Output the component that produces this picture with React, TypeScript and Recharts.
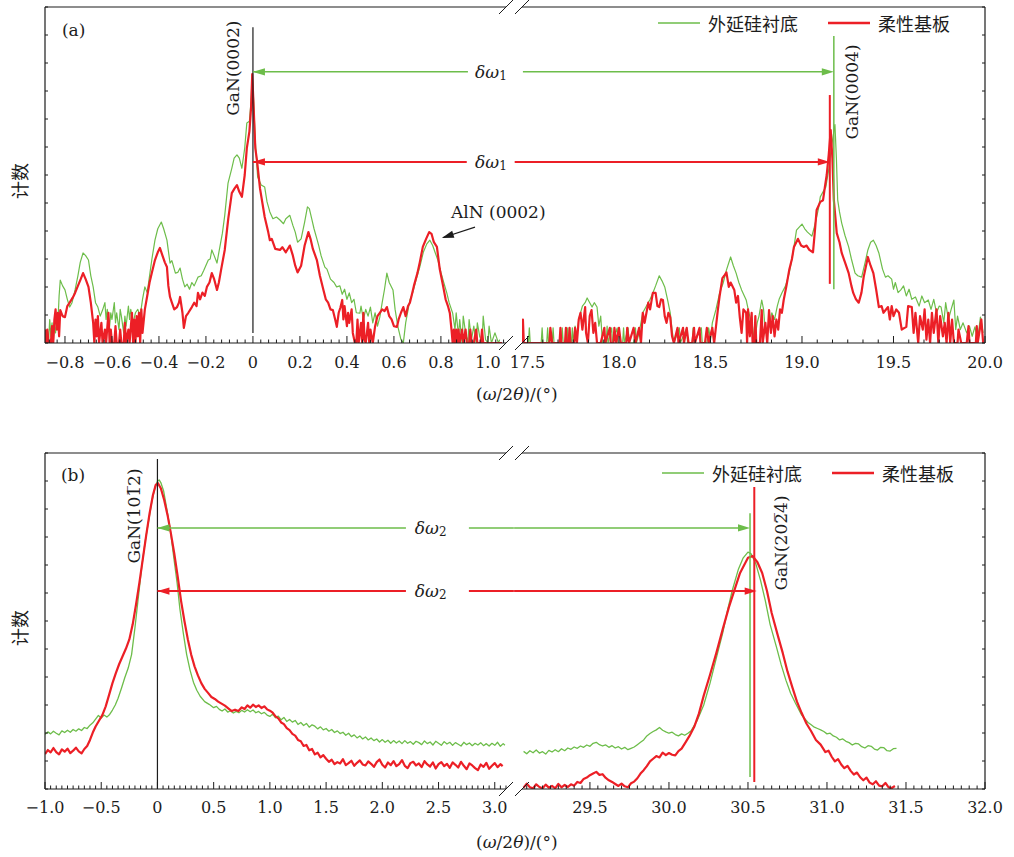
import React from 'react';
import { LineChart, Line, XAxis, YAxis, ReferenceLine, ReferenceDot, Legend } from 'recharts';

type Pt = [number, number];

// ---------------- series names ----------------
const SERIES_GREEN = '外延硅衬底';
const SERIES_RED = '柔性基板';

// ---------------- panel (a), left section: ω/2θ from -0.885 to 1.08 ----------------
const aLeftGreen: Pt[] = [
  [-0.88, 0], [-0.875, 4], [-0.87, 0], [-0.865, 7], [-0.86, 2], [-0.855, 6], [-0.85, 0], [-0.845, 5], [-0.84, 3],
  [-0.835, 8], [-0.83, 6], [-0.825, 14], [-0.82, 18.7], [-0.81, 17], [-0.8, 15.8], [-0.79, 13], [-0.78, 10.7],
  [-0.77, 12], [-0.757, 15.8], [-0.745, 20], [-0.735, 24], [-0.723, 26.8], [-0.712, 26], [-0.7, 24.7], [-0.69, 20],
  [-0.68, 16.7], [-0.67, 12], [-0.66, 10.7], [-0.65, 8], [-0.64, 9.8], [-0.63, 12], [-0.625, 7], [-0.62, 10],
  [-0.61, 5], [-0.605, 9], [-0.6, 7], [-0.59, 12], [-0.585, 6], [-0.58, 9], [-0.57, 4], [-0.565, 10], [-0.56, 8],
  [-0.55, 3], [-0.545, 8], [-0.54, 5], [-0.53, 11], [-0.525, 7], [-0.52, 10], [-0.51, 6], [-0.5, 9], [-0.49, 10],
  [-0.48, 8], [-0.47, 13], [-0.46, 16.7], [-0.45, 15], [-0.44, 20], [-0.43, 25], [-0.417, 30.6], [-0.405, 34],
  [-0.39, 36], [-0.38, 34], [-0.366, 30.6], [-0.353, 23.8], [-0.345, 24.5], [-0.33, 20.8], [-0.32, 21], [-0.31, 22.3],
  [-0.3, 19], [-0.29, 16.7], [-0.28, 17.5], [-0.27, 16], [-0.26, 18], [-0.25, 17], [-0.234, 19.6], [-0.22, 20],
  [-0.21, 21.5], [-0.19, 24.7], [-0.182, 25], [-0.175, 27.7], [-0.165, 26], [-0.153, 23.8], [-0.145, 27], [-0.13, 32.7],
  [-0.12, 38], [-0.106, 47.6], [-0.09, 52], [-0.08, 55], [-0.068, 56], [-0.058, 55], [-0.047, 52], [-0.035, 58],
  [-0.026, 65.5], [-0.015, 66], [-0.008, 72], [-0.003, 80], [0.003, 72], [0.01, 60], [0.02, 49.4], [0.035, 47],
  [0.05, 46.4], [0.06, 42], [0.072, 39], [0.085, 37], [0.1, 37.5], [0.115, 36.6], [0.13, 35.5], [0.14, 37],
  [0.157, 38], [0.17, 35], [0.18, 33], [0.19, 30], [0.205, 31], [0.22, 36], [0.232, 40.5], [0.24, 40], [0.25, 37],
  [0.26, 34], [0.27, 31.5], [0.28, 29], [0.29, 26], [0.306, 22.6], [0.315, 22], [0.33, 19], [0.345, 18], [0.356, 16.7],
  [0.37, 17], [0.38, 14.5], [0.39, 16], [0.4, 13], [0.41, 14.9], [0.42, 12], [0.43, 13], [0.44, 9], [0.455, 8.9],
  [0.46, 11], [0.47, 7], [0.48, 10], [0.49, 8], [0.5, 10.7], [0.51, 6], [0.52, 9], [0.53, 5], [0.54, 7.7], [0.55, 12],
  [0.56, 16], [0.57, 20.8], [0.58, 18], [0.596, 15.8], [0.605, 10], [0.617, 4.8], [0.63, 1], [0.64, 0], [0.65, 6],
  [0.668, 12.8], [0.68, 15], [0.695, 19], [0.71, 22.6], [0.725, 27], [0.74, 29.5], [0.753, 30.6], [0.765, 29],
  [0.775, 27], [0.787, 24.7], [0.8, 21], [0.812, 18], [0.825, 14.9], [0.835, 12], [0.85, 8.9], [0.86, 4], [0.865, 9],
  [0.875, 2], [0.88, 7], [0.89, 0], [0.895, 8], [0.905, 3], [0.915, 0], [0.92, 7], [0.93, 1], [0.94, 5], [0.95, 0],
  [0.955, 6], [0.965, 2], [0.975, 0], [0.98, 8], [0.99, 1], [1.0, 0], [1.005, 5], [1.015, 0], [1.03, 3], [1.045, 0], [1.05, 1],
];

const aLeftRed: Pt[] = [
  [-0.884, 4], [-0.88, 0], [-0.875, 4], [-0.87, 0], [-0.86, 0], [-0.855, 5], [-0.85, 0], [-0.845, 7], [-0.84, 10],
  [-0.835, 4], [-0.83, 9], [-0.825, 2], [-0.82, 9.8], [-0.81, 8], [-0.8, 7.7], [-0.79, 11], [-0.78, 12], [-0.767, 13.5],
  [-0.757, 14.9], [-0.745, 17], [-0.733, 19], [-0.723, 20.8], [-0.712, 19], [-0.7, 16.7], [-0.69, 12], [-0.68, 6],
  [-0.675, 0], [-0.67, 7], [-0.665, 2], [-0.66, 8], [-0.655, 0], [-0.645, 6], [-0.64, 0], [-0.63, 4], [-0.625, 0],
  [-0.615, 9], [-0.61, 0], [-0.605, 4], [-0.6, 0], [-0.59, 0], [-0.585, 5], [-0.58, 0], [-0.57, 0], [-0.565, 4],
  [-0.56, 0], [-0.55, 0], [-0.545, 6], [-0.54, 0], [-0.53, 4], [-0.525, 0], [-0.515, 9], [-0.51, 0], [-0.505, 7],
  [-0.5, 0], [-0.495, 8], [-0.49, 2], [-0.485, 9], [-0.48, 0], [-0.475, 10], [-0.47, 3], [-0.46, 10], [-0.45, 14],
  [-0.44, 18], [-0.43, 21], [-0.417, 24.7], [-0.405, 27], [-0.396, 28.3], [-0.385, 26], [-0.375, 24], [-0.366, 22.6],
  [-0.36, 17], [-0.353, 13.7], [-0.345, 12], [-0.335, 10], [-0.323, 10.7], [-0.315, 12], [-0.31, 13.7], [-0.3, 9],
  [-0.294, 4.5], [-0.285, 8], [-0.275, 9], [-0.26, 10.7], [-0.25, 12], [-0.24, 11], [-0.234, 14.9], [-0.225, 13],
  [-0.215, 15], [-0.205, 14], [-0.196, 16.7], [-0.185, 18], [-0.175, 20.8], [-0.165, 19], [-0.153, 15.8], [-0.145, 18],
  [-0.135, 22], [-0.12, 27.7], [-0.105, 37], [-0.09, 44.6], [-0.078, 46], [-0.068, 47], [-0.058, 45], [-0.047, 43.5],
  [-0.035, 50], [-0.026, 58], [-0.015, 63], [-0.008, 70], [-0.003, 80], [0.003, 70], [0.01, 58], [0.017, 54.5],
  [0.03, 46], [0.05, 37.5], [0.065, 33], [0.072, 30.6], [0.08, 31], [0.095, 28], [0.115, 27.7], [0.125, 28.5],
  [0.14, 27], [0.157, 29], [0.17, 26], [0.18, 23], [0.19, 21], [0.205, 23], [0.22, 29], [0.236, 33], [0.245, 31],
  [0.255, 28], [0.272, 24.7], [0.285, 20], [0.3, 15.8], [0.31, 13], [0.32, 12], [0.33, 10], [0.34, 9.8], [0.35, 7],
  [0.357, 4.8], [0.365, 9], [0.372, 10.5], [0.38, 12.8], [0.385, 7], [0.39, 11], [0.4, 5], [0.405, 9], [0.41, 6],
  [0.42, 10], [0.425, 3], [0.434, 0], [0.44, 0], [0.445, 7], [0.45, 0], [0.46, 6], [0.465, 0], [0.47, 9], [0.475, 1],
  [0.48, 0], [0.49, 6], [0.495, 0], [0.5, 4], [0.51, 0], [0.52, 5], [0.53, 8], [0.54, 9], [0.55, 10], [0.56, 9.5],
  [0.57, 10.7], [0.58, 8], [0.59, 7], [0.6, 5], [0.613, 4.8], [0.62, 7], [0.63, 9], [0.64, 10.7], [0.65, 8], [0.66, 11],
  [0.668, 12], [0.675, 14], [0.685, 17], [0.7, 20.8], [0.71, 24], [0.723, 28.6], [0.737, 31], [0.75, 33], [0.76, 32.5],
  [0.77, 30], [0.783, 28.6], [0.795, 22], [0.81, 16.7], [0.82, 13], [0.83, 11], [0.838, 8.9], [0.845, 4], [0.85, 0],
  [0.855, 4], [0.86, 0], [0.865, 4], [0.87, 0], [0.875, 4], [0.88, 0], [0.89, 4], [0.895, 0], [0.905, 4], [0.91, 0],
  [0.92, 0], [0.925, 4], [0.93, 0], [0.94, 0], [0.95, 4], [0.955, 0], [0.97, 0], [0.975, 4], [0.98, 0], [1.0, 0], [1.06, 0],
];

// ---------------- panel (a), right section: 17.47 to 20.0 ----------------
const aRightGreen: Pt[] = [
  [17.47, 0], [17.505, 0], [17.51, 4.5], [17.515, 0], [17.575, 0], [17.58, 4.5], [17.585, 0], [17.605, 0], [17.61, 4.5],
  [17.615, 0], [17.635, 0], [17.64, 4.5], [17.645, 0], [17.685, 0], [17.69, 4.5], [17.695, 0], [17.715, 0], [17.72, 4.5],
  [17.725, 0], [17.74, 0], [17.745, 4.5], [17.75, 0], [17.76, 5], [17.77, 2], [17.78, 7], [17.79, 9], [17.8, 11],
  [17.815, 12], [17.826, 13.4], [17.84, 12], [17.853, 10.7], [17.865, 12], [17.88, 10.7], [17.89, 5], [17.9, 8], [17.91, 0],
  [17.93, 0], [17.935, 5], [17.94, 0], [17.96, 4.5], [17.965, 0], [17.99, 4.5], [17.995, 0], [18.02, 0], [18.025, 4.5],
  [18.03, 0], [18.05, 4.5], [18.055, 0], [18.08, 0], [18.09, 4.5], [18.095, 0], [18.11, 3], [18.12, 6], [18.13, 9],
  [18.15, 11], [18.17, 13], [18.185, 14.9], [18.2, 17], [18.22, 20], [18.235, 18.5], [18.25, 16.7], [18.265, 13],
  [18.28, 9], [18.29, 4], [18.3, 0], [18.33, 4.5], [18.335, 0], [18.37, 4.5], [18.375, 0], [18.4, 0], [18.405, 4.5],
  [18.41, 0], [18.45, 4.5], [18.455, 0], [18.48, 0], [18.49, 4.5], [18.5, 1], [18.51, 6], [18.53, 10], [18.55, 14.9],
  [18.57, 18], [18.587, 21.7], [18.61, 25.6], [18.625, 23], [18.64, 20.8], [18.655, 18], [18.67, 15.8], [18.685, 14],
  [18.695, 12.8], [18.71, 9], [18.73, 4.8], [18.74, 0], [18.755, 6], [18.765, 8], [18.78, 12.8], [18.79, 10], [18.8, 3],
  [18.82, 4.8], [18.835, 9], [18.85, 7], [18.865, 11], [18.875, 13], [18.89, 14.9], [18.91, 17], [18.93, 20.8],
  [18.945, 25], [18.956, 28.6], [18.97, 33.6], [18.985, 34.5], [19.0, 35.4], [19.015, 34], [19.03, 33], [19.054, 31.8],
  [19.065, 34], [19.076, 36.6], [19.09, 40], [19.1, 43.5], [19.115, 45], [19.13, 46.4], [19.146, 51.5], [19.16, 58],
  [19.18, 65], [19.188, 55], [19.195, 42.6], [19.205, 39], [19.217, 35.7], [19.235, 32], [19.255, 28.6], [19.27, 25],
  [19.29, 20.8], [19.305, 20], [19.326, 19.6], [19.345, 24], [19.36, 27.7], [19.375, 30], [19.39, 30.6], [19.405, 29],
  [19.42, 26.8], [19.44, 22], [19.456, 19.6], [19.47, 20], [19.49, 19], [19.5, 16], [19.51, 18], [19.525, 15],
  [19.54, 15.8], [19.555, 17], [19.57, 14], [19.585, 16], [19.6, 13], [19.62, 13.7], [19.64, 11], [19.655, 14],
  [19.67, 12], [19.69, 12.8], [19.705, 10], [19.72, 13], [19.735, 9], [19.75, 11], [19.76, 10.7], [19.775, 6],
  [19.785, 12], [19.8, 7], [19.815, 10], [19.83, 12.8], [19.84, 4], [19.85, 8], [19.865, 4], [19.88, 6], [19.9, 3],
  [19.915, 5], [19.93, 2], [19.945, 4.8], [19.96, 1], [19.975, 7.7], [19.99, 3],
];

const aRightRed: Pt[] = [
  [17.47, 0], [17.475, 7], [17.48, 0], [17.6, 0], [17.62, 0], [17.625, 4.5], [17.635, 0], [17.675, 0], [17.68, 4.5],
  [17.685, 0], [17.705, 0], [17.71, 4.5], [17.715, 0], [17.725, 0], [17.73, 4.5], [17.735, 0], [17.755, 0], [17.76, 4.5],
  [17.77, 0], [17.78, 7], [17.79, 9], [17.8, 4], [17.815, 10.7], [17.82, 3], [17.83, 0], [17.84, 8], [17.85, 9.8],
  [17.86, 3], [17.87, 6], [17.88, 0], [17.9, 0], [17.92, 4.5], [17.925, 0], [17.95, 4.5], [17.955, 0], [17.97, 0],
  [17.975, 4.5], [17.985, 0], [18.0, 4.5], [18.01, 0], [18.04, 0], [18.045, 4.5], [18.055, 0], [18.08, 4.5], [18.09, 0],
  [18.11, 4.5], [18.12, 0], [18.13, 9], [18.14, 6], [18.16, 12], [18.17, 10], [18.185, 14.9], [18.2, 14.9], [18.21, 11],
  [18.22, 10.7], [18.23, 13], [18.24, 12.8], [18.25, 8], [18.26, 6], [18.27, 9], [18.28, 7.7], [18.29, 2], [18.3, 0],
  [18.32, 4.5], [18.325, 0], [18.35, 4.5], [18.355, 0], [18.37, 4.5], [18.38, 0], [18.4, 0], [18.41, 4.5], [18.415, 0],
  [18.44, 4.5], [18.445, 0], [18.47, 0], [18.48, 4.5], [18.49, 0], [18.51, 4.5], [18.52, 0], [18.54, 9.8], [18.55, 14],
  [18.565, 19.3], [18.575, 20], [18.587, 21], [18.6, 16.7], [18.61, 18], [18.63, 15.8], [18.64, 12], [18.65, 14],
  [18.66, 7.7], [18.67, 3], [18.68, 10], [18.695, 9], [18.7, 0], [18.705, 10], [18.715, 2], [18.725, 9], [18.73, 0],
  [18.74, 0], [18.745, 8], [18.75, 0], [18.77, 0], [18.78, 9.8], [18.785, 0], [18.8, 6], [18.81, 0], [18.82, 9.8],
  [18.83, 3], [18.84, 8], [18.85, 2], [18.86, 7], [18.87, 4], [18.88, 10], [18.89, 9], [18.9, 12.8], [18.915, 17],
  [18.93, 21.7], [18.945, 25], [18.956, 28.6], [18.978, 31], [18.995, 29], [19.01, 28.6], [19.025, 29], [19.04, 27.7],
  [19.06, 27], [19.07, 33], [19.08, 39.6], [19.1, 42], [19.115, 42.5], [19.125, 46.4], [19.135, 50], [19.146, 56],
  [19.157, 63.4], [19.166, 55], [19.174, 42.6], [19.19, 32.7], [19.205, 30], [19.217, 26.8], [19.235, 24], [19.255, 20.8],
  [19.27, 17], [19.28, 14.9], [19.295, 13], [19.31, 12], [19.325, 15], [19.337, 19.6], [19.36, 25.6], [19.375, 23],
  [19.39, 20.8], [19.405, 16], [19.42, 10.7], [19.435, 11], [19.445, 9], [19.47, 10.7], [19.48, 7], [19.49, 11], [19.5, 8],
  [19.515, 10], [19.53, 9], [19.545, 4], [19.57, 4.8], [19.58, 11], [19.6, 10.7], [19.61, 3], [19.62, 9], [19.635, 0],
  [19.645, 8], [19.66, 4], [19.67, 10], [19.68, 1], [19.69, 7], [19.7, 0], [19.71, 9], [19.72, 3], [19.735, 10],
  [19.745, 0], [19.755, 8], [19.77, 2], [19.78, 6], [19.79, 0], [19.8, 9], [19.81, 0], [19.82, 7], [19.83, 0], [19.85, 0],
  [19.855, 4], [19.87, 0], [19.9, 0], [19.91, 5], [19.915, 0], [19.95, 0], [19.955, 5], [19.96, 0], [19.98, 7], [19.99, 0],
];

// ---------------- panel (b), left section: -1.0 to 3.1 ----------------
const bLeftGreen: Pt[] = [
  [-1.0, 16.3], [-0.975, 17.0], [-0.95, 16.4], [-0.925, 17.2], [-0.9, 16.6], [-0.875, 16.1], [-0.85, 17.3], [-0.825, 16.8],
  [-0.8, 17.5], [-0.775, 16.9], [-0.75, 17.7], [-0.725, 17.2], [-0.7, 17.9], [-0.675, 17.4], [-0.65, 18.3], [-0.625, 18.0],
  [-0.6, 19.0], [-0.575, 19.7], [-0.55, 20.8], [-0.525, 21.9], [-0.5, 21.1], [-0.475, 22.0], [-0.45, 21.4], [-0.425, 22.2],
  [-0.4, 23.5], [-0.375, 25.0], [-0.35, 27], [-0.32, 30], [-0.29, 33.2], [-0.26, 36], [-0.23, 40], [-0.2, 48], [-0.17, 57],
  [-0.14, 66], [-0.11, 73.5], [-0.08, 79.5], [-0.05, 85.5], [-0.02, 90], [0.0, 91.5], [0.015, 92], [0.03, 91.2],
  [0.055, 88.7], [0.085, 83], [0.115, 77], [0.145, 69], [0.175, 61.3], [0.2, 53.5], [0.23, 46.4], [0.26, 40],
  [0.29, 35.4], [0.32, 31.8], [0.35, 29.4], [0.38, 27.6], [0.42, 26], [0.46, 25.2], [0.5, 24.2], [0.525, 24.6], [0.55, 23.7],
  [0.575, 23.2], [0.6, 23.8], [0.625, 22.9], [0.65, 23.3], [0.675, 22.6], [0.7, 23.1], [0.725, 22.7], [0.75, 23.4],
  [0.775, 22.9], [0.8, 23.6], [0.825, 23.0], [0.85, 23.5], [0.875, 22.7], [0.9, 23.1], [0.925, 22.4], [0.95, 22.8],
  [0.975, 22.0], [1.0, 21.6], [1.025, 22.3], [1.05, 21.2], [1.075, 21.7], [1.1, 20.6], [1.125, 21.3], [1.15, 20.1],
  [1.175, 20.7], [1.2, 19.9], [1.225, 20.4], [1.25, 19.2], [1.275, 19.8], [1.3, 18.9], [1.325, 19.5], [1.35, 18.4],
  [1.375, 19.1], [1.4, 18.7], [1.425, 17.9], [1.45, 18.5], [1.475, 17.6], [1.5, 18.0], [1.525, 17.2], [1.55, 17.7],
  [1.575, 16.8], [1.6, 17.3], [1.625, 16.5], [1.65, 16.9], [1.675, 16.0], [1.7, 16.6], [1.725, 15.6], [1.75, 16.1],
  [1.775, 15.2], [1.8, 15.8], [1.825, 14.9], [1.85, 15.5], [1.875, 14.6], [1.9, 15.2], [1.925, 14.4], [1.95, 14.9],
  [1.975, 14.0], [2.0, 14.7], [2.025, 13.9], [2.05, 14.5], [2.075, 13.6], [2.1, 14.4], [2.125, 13.7], [2.15, 14.3],
  [2.175, 13.5], [2.2, 14.4], [2.225, 13.6], [2.25, 14.1], [2.275, 13.3], [2.3, 14.2], [2.325, 13.8], [2.35, 13.2],
  [2.375, 14.3], [2.4, 13.5], [2.425, 14.0], [2.45, 13.1], [2.475, 14.2], [2.5, 13.6], [2.525, 13.0], [2.55, 14.1],
  [2.575, 13.4], [2.6, 13.9], [2.625, 13.0], [2.65, 13.8], [2.675, 13.3], [2.7, 12.8], [2.725, 13.9], [2.75, 13.2],
  [2.775, 13.7], [2.8, 12.9], [2.825, 13.6], [2.85, 13.1], [2.875, 13.8], [2.9, 12.9], [2.925, 13.5], [2.95, 12.8],
  [2.975, 13.6], [3.0, 13.0], [3.025, 13.9], [3.05, 12.7], [3.075, 13.5], [3.09, 13.0],
];

const bLeftRed: Pt[] = [
  [-1.0, 10.4], [-0.975, 11.6], [-0.95, 10.9], [-0.925, 12.2], [-0.9, 11.0], [-0.875, 10.3], [-0.85, 11.8], [-0.825, 11.1],
  [-0.8, 12.0], [-0.775, 10.7], [-0.75, 11.4], [-0.725, 12.3], [-0.7, 11.2], [-0.675, 10.6], [-0.65, 11.9], [-0.625, 12.8],
  [-0.6, 14.6], [-0.575, 16.8], [-0.55, 18.6], [-0.52, 20.3], [-0.49, 22], [-0.46, 24.6], [-0.43, 28], [-0.4, 31.5],
  [-0.37, 34.5], [-0.34, 37.2], [-0.31, 39.5], [-0.28, 41.8], [-0.25, 44.5], [-0.22, 49], [-0.19, 55], [-0.16, 61.5],
  [-0.13, 68.5], [-0.1, 75.5], [-0.07, 82], [-0.04, 87.5], [-0.015, 90.5], [0.005, 91], [0.03, 89.5], [0.06, 86],
  [0.09, 81.5], [0.12, 76], [0.15, 70], [0.18, 63.3], [0.21, 56], [0.24, 50], [0.27, 44.6], [0.3, 40], [0.33, 36.5],
  [0.36, 33.8], [0.39, 31.5], [0.42, 29.8], [0.45, 28.6], [0.48, 27.4], [0.51, 26.8], [0.54, 26], [0.57, 25.4],
  [0.6, 24.8], [0.63, 24], [0.66, 23.2], [0.69, 23.6], [0.72, 23.2], [0.75, 24.3], [0.775, 23.8], [0.8, 24.9],
  [0.825, 24.2], [0.85, 25.1], [0.875, 24.4], [0.9, 24.9], [0.925, 24.1], [0.95, 24.6], [0.975, 23.7], [1.0, 23.3],
  [1.025, 22.7], [1.05, 21.6], [1.075, 21.0], [1.1, 19.8], [1.125, 19.3], [1.15, 18.1], [1.175, 17.5], [1.2, 16.4],
  [1.225, 15.9], [1.25, 14.6], [1.275, 14.2], [1.3, 12.8], [1.325, 13.1], [1.35, 11.5], [1.375, 11.9], [1.4, 10.3],
  [1.425, 10.8], [1.45, 9.4], [1.475, 10.1], [1.5, 9.0], [1.525, 8.1], [1.55, 8.7], [1.575, 7.4], [1.6, 8.0], [1.625, 7.6],
  [1.65, 8.9], [1.675, 7.1], [1.7, 7.7], [1.725, 8.4], [1.75, 6.9], [1.775, 7.8], [1.8, 8.5], [1.825, 7.3], [1.85, 7.0],
  [1.875, 8.2], [1.9, 7.5], [1.925, 6.6], [1.95, 8.0], [1.975, 8.8], [2.0, 7.2], [2.025, 6.4], [2.05, 7.9], [2.075, 7.1],
  [2.1, 8.3], [2.125, 6.8], [2.15, 7.4], [2.175, 8.6], [2.2, 6.9], [2.225, 6.2], [2.25, 7.7], [2.275, 8.1], [2.3, 7.0],
  [2.325, 7.6], [2.35, 6.5], [2.375, 8.3], [2.4, 7.3], [2.425, 6.7], [2.45, 7.9], [2.475, 6.1], [2.5, 7.4], [2.525, 8.0],
  [2.55, 6.8], [2.575, 7.5], [2.6, 6.3], [2.625, 7.9], [2.65, 7.2], [2.675, 6.4], [2.7, 8.1], [2.725, 6.9], [2.75, 5.9],
  [2.775, 7.6], [2.8, 7.0], [2.825, 6.2], [2.85, 5.6], [2.875, 7.3], [2.9, 6.6], [2.925, 7.8], [2.95, 6.0], [2.975, 6.9],
  [3.0, 7.7], [3.025, 6.5], [3.05, 7.4], [3.07, 6.8],
];

// ---------------- panel (b), right section: 29.07 to 32.0 ----------------
const bRightGreen: Pt[] = [
  [29.08, 11.2], [29.1, 10.5], [29.12, 11.4], [29.14, 10.8], [29.16, 11.6], [29.18, 10.7], [29.2, 11.1], [29.22, 10.4],
  [29.24, 11.5], [29.26, 11.0], [29.28, 11.7], [29.3, 11.1], [29.32, 12.0], [29.34, 11.4], [29.36, 12.2], [29.38, 11.8],
  [29.4, 12.5], [29.42, 12.1], [29.44, 12.8], [29.46, 12.4], [29.48, 13.1], [29.5, 12.7], [29.52, 13.6], [29.54, 13.9],
  [29.56, 13.2], [29.58, 12.8], [29.6, 13.1], [29.62, 12.4], [29.64, 12.9], [29.66, 12.2], [29.68, 12.6], [29.7, 11.9],
  [29.72, 12.4], [29.74, 11.7], [29.76, 12.1], [29.78, 12.5], [29.8, 13.2], [29.82, 13.9], [29.84, 14.6], [29.86, 15.8],
  [29.88, 16.5], [29.9, 17.1], [29.92, 17.6], [29.94, 18.3], [29.96, 17.5], [29.98, 17.0], [30.0, 16.6], [30.02, 16.9],
  [30.04, 16.2], [30.06, 15.8], [30.08, 16.4], [30.1, 16.0], [30.12, 16.6], [30.14, 17.3], [30.18, 20.5], [30.22, 25],
  [30.26, 31.5], [30.3, 39], [30.34, 46.4], [30.37, 53], [30.4, 59], [30.44, 65.5], [30.47, 68.8], [30.5, 70.5],
  [30.52, 70], [30.55, 67], [30.58, 62], [30.61, 56], [30.64, 49], [30.68, 42.3], [30.71, 37], [30.74, 32.4],
  [30.77, 28.5], [30.8, 25.6], [30.84, 22], [30.88, 19.8], [30.9, 19.1], [30.92, 18.4], [30.94, 18.0], [30.96, 17.6],
  [30.98, 17.1], [31.0, 16.4], [31.02, 16.6], [31.04, 15.8], [31.06, 15.4], [31.08, 14.6], [31.1, 14.9], [31.12, 14.2],
  [31.14, 13.8], [31.16, 13.1], [31.18, 13.6], [31.2, 13.4], [31.22, 12.6], [31.24, 12.2], [31.26, 12.9], [31.28, 12.7],
  [31.3, 11.9], [31.32, 11.6], [31.34, 12.4], [31.36, 12.3], [31.38, 11.4], [31.4, 11.3], [31.42, 12.0], [31.44, 12.1],
];

const bRightRed: Pt[] = [
  [29.08, 0.4], [29.1, 1.6], [29.12, 0.5], [29.14, 0.2], [29.16, 1.4], [29.18, 0.6], [29.2, 0.2], [29.22, 1.3],
  [29.24, 0.4], [29.26, 0.9], [29.28, 0.2], [29.3, 1.5], [29.32, 0.5], [29.34, 1.2], [29.36, 0.6], [29.38, 1.4],
  [29.4, 1.0], [29.42, 2.1], [29.44, 1.8], [29.46, 3.0], [29.48, 3.4], [29.5, 4.1], [29.52, 4.6], [29.54, 5.1],
  [29.56, 4.2], [29.58, 4.4], [29.6, 3.3], [29.62, 2.6], [29.64, 2.1], [29.66, 1.5], [29.68, 0.9], [29.7, 1.6],
  [29.72, 0.8], [29.74, 0.5], [29.76, 1.7], [29.78, 2.2], [29.8, 3.2], [29.82, 4.6], [29.84, 5.6], [29.86, 6.8],
  [29.88, 8.2], [29.9, 9.0], [29.92, 9.8], [29.94, 9.4], [29.96, 10.8], [29.98, 10.1], [30.0, 10.7], [30.02, 10.2],
  [30.04, 10.0], [30.06, 11.3], [30.08, 12.0], [30.1, 13.5], [30.13, 15.8], [30.16, 18.5], [30.19, 22.5], [30.22, 27.8],
  [30.26, 34], [30.3, 40.5], [30.34, 47.5], [30.38, 54.2], [30.42, 60], [30.45, 64.3], [30.5, 68.8], [30.53, 69.3],
  [30.56, 67.5], [30.59, 64.3], [30.62, 59], [30.65, 52.4], [30.69, 45.5], [30.72, 40.5], [30.75, 35], [30.78, 30.4],
  [30.81, 26], [30.84, 22.6], [30.87, 19.5], [30.9, 17.2], [30.93, 14.6], [30.96, 13.2], [30.99, 11], [31.01, 11.4],
  [31.03, 9.6], [31.05, 8.2], [31.07, 8.9], [31.09, 7.3], [31.11, 6.2], [31.13, 6.9], [31.15, 5.4], [31.17, 4.3],
  [31.19, 4.9], [31.21, 3.5], [31.23, 2.6], [31.25, 3.4], [31.27, 1.9], [31.29, 1.4], [31.31, 2.3], [31.33, 1.0],
  [31.35, 0.8], [31.37, 1.8], [31.39, 0.5], [31.41, 0.3], [31.43, 0.9],
];

// ---------------- tick labels ----------------
const aLeftMajor = [-0.8, -0.6, -0.4, -0.2, 0, 0.2, 0.4, 0.6, 0.8, 1.0];
const aLeftLabels = ['−0.8', '−0.6', '−0.4', '−0.2', '0', '0.2', '0.4', '0.6', '0.8', '1.0'];
const aRightMajor = [17.5, 18.0, 18.5, 19.0, 19.5, 20.0];
const aRightLabels = ['17.5', '18.0', '18.5', '19.0', '19.5', '20.0'];
const bLeftMajor = [-1.0, -0.5, 0, 0.5, 1.0, 1.5, 2.0, 2.5, 3.0];
const bLeftLabels = ['−1.0', '−0.5', '0', '0.5', '1.0', '1.5', '2.0', '2.5', '3.0'];
const bRightMajor = [29.5, 30.0, 30.5, 31.0, 31.5, 32.0];
const bRightLabels = ['29.5', '30.0', '30.5', '31.0', '31.5', '32.0'];

// ---------------- peak markers (data units) ----------------
const aPeakLeft = 0;
const aPeakGreenRight = 19.174;
const aPeakRedRight = 19.152;
const bPeakLeft = 0;
const bPeakGreenRight = 30.513;
const bPeakRedRight = 30.54;

// ---------------- styling ----------------
const GREEN = '#6dbd4a';
const RED = '#ec1f26';
const INK = '#1c1c1c';
const SERIF = '"DejaVu Serif", serif';
const CJK = '"Noto Sans CJK SC", "Noto Sans CJK JP", sans-serif';

const rows = (p: Pt[]) => p.map(([x, y]) => ({ x, y }));
const near = (a: number, b: number) => Math.abs(a - b) < 1e-6;
const steps = (k0: number, k1: number, div: number) => {
  const out: number[] = [];
  for (let k = k0; k <= k1; k++) out.push(k / div);
  return out;
};

const aLeftTicks = steps(-26, 32, 30);
const aRightTicks = steps(210, 240, 12);
const bLeftTicks = steps(-20, 62, 20);
const bRightTicks = steps(582, 640, 20);
const yTicks = steps(0, 12, 0.12);

const xTick = (majors: number[], labels: string[], dy: number) => (p: any) => {
  const v = p.payload.value;
  const i = majors.findIndex((m) => near(m, v));
  const major = i >= 0;
  return (
    <g>
      <line x1={p.x} x2={p.x} y1={p.y} y2={p.y - (major ? 7 : 3.5)} stroke={INK} strokeWidth={1} />
      {major && (
        <text x={p.x} y={p.y + dy} textAnchor="middle" fontFamily={SERIF} fontSize={16} fill={INK}>
          {labels[i]}
        </text>
      )}
    </g>
  );
};
const yTickL = (p: any) => <line x1={p.x} x2={p.x + 3} y1={p.y} y2={p.y} stroke={INK} strokeWidth={1} />;
const yTickR = (p: any) => <line x1={p.x} x2={p.x - 3} y1={p.y} y2={p.y} stroke={INK} strokeWidth={1} />;

const at = (key: string, x: number, y: number, node: React.ReactNode) => (
  <ReferenceDot
    key={key}
    x={x}
    y={y}
    r={0}
    ifOverflow="visible"
    shape={(p: any) => <g transform={`translate(${p.cx},${p.cy})`}>{node}</g>}
  />
);
const head = (angle: number, color: string) => (
  <polygon points="0,0 -12,-3.6 -12,3.6" fill={color} transform={`rotate(${angle})`} />
);
const seg = (key: string, x1: number, y1: number, x2: number, y2: number, color: string, w: number) => (
  <ReferenceLine key={key} segment={[{ x: x1, y: y1 }, { x: x2, y: y2 }]} stroke={color} strokeWidth={w} ifOverflow="visible" />
);
const vText = (s: React.ReactNode) => (
  <text transform="rotate(-90)" textAnchor="middle" dominantBaseline="central" fontFamily={SERIF} fontSize={17} fill={INK}>
    {s}
  </text>
);
const dw = (sub: string) => (
  <text textAnchor="middle" dominantBaseline="central" fontFamily={SERIF} fontSize={17} fill={INK}>
    <tspan fontStyle="italic">δω</tspan>
    <tspan fontSize={12} dy={4}>{sub}</tspan>
  </text>
);
const axisTitle = (
  <text textAnchor="middle" fontFamily={SERIF} fontSize={17} fill={INK}>
    (<tspan fontStyle="italic">ω</tspan>/2<tspan fontStyle="italic">θ</tspan>)/(°)
  </text>
);
const countLabel = (
  <text transform="rotate(-90)" textAnchor="middle" dominantBaseline="central" fontFamily={CJK} fontSize={18} fill={INK}>
    计数
  </text>
);
const slash = (key: string, xc: number, yc: number, dxu: number, dyu: number) =>
  seg(key, xc - dxu, yc - dyu, xc + dxu, yc + dyu, INK, 1);

const legendContent = (props: any) => {
  const items = props.payload || [];
  return (
    <div style={{ display: 'flex', alignItems: 'center', height: 24 }}>
      {items.map((it: any, i: number) => (
        <div key={i} style={{ display: 'flex', alignItems: 'center', marginLeft: i ? 30 : 0 }}>
          <svg width={42} height={6} style={{ display: 'block' }}>
            <line x1={0} x2={42} y1={3} y2={3} stroke={it.color} strokeWidth={it.color === RED ? 2.4 : 1.4} />
          </svg>
          <span style={{ marginLeft: 8, fontFamily: CJK, fontSize: 18, color: INK, lineHeight: '24px' }}>{it.value}</span>
        </div>
      ))}
    </div>
  );
};

const axisStyle = { stroke: INK, strokeWidth: 1.2 };
const SL = 7; // slash half-size in px

// plot geometry (px) used for chart margins
const L_PLOT_LEFT = 45, L_PLOT_RIGHT = 506, R_PLOT_LEFT = 522, R_PLOT_RIGHT = 985;
const L_SVG_W = 600, R_SVG_LEFT = 496, R_SVG_W = 518;

export default function App() {
  const aDomL: [number, number] = [-0.885, 1.077];
  const aDomR: [number, number] = [17.47, 20.0];
  const bDomL: [number, number] = [-1.0, 3.1];
  const bDomR: [number, number] = [29.07, 32.0];
  const kyU = 100 / 336; // y units per px
  const kxAL = (aDomL[1] - aDomL[0]) / (L_PLOT_RIGHT - L_PLOT_LEFT);
  const kxAR = (aDomR[1] - aDomR[0]) / (R_PLOT_RIGHT - R_PLOT_LEFT);
  const kxBL = (bDomL[1] - bDomL[0]) / (L_PLOT_RIGHT - L_PLOT_LEFT);
  const kxBR = (bDomR[1] - bDomR[0]) / (R_PLOT_RIGHT - R_PLOT_LEFT);

  const common = (dom: [number, number], ticks: number[], majors: number[], labels: string[], dy: number) => (
    <XAxis
      type="number"
      dataKey="x"
      domain={dom}
      allowDataOverflow
      ticks={ticks}
      interval={0}
      tickLine={false}
      tickSize={0}
      tickMargin={0}
      height={30}
      axisLine={axisStyle}
      tick={xTick(majors, labels, dy)}
    />
  );

  const yAx = (side: 'left' | 'right', width: number) => (
    <YAxis
      type="number"
      orientation={side}
      domain={[0, 100]}
      allowDataOverflow
      ticks={yTicks}
      interval={0}
      tickLine={false}
      tickSize={0}
      tickMargin={0}
      width={width}
      axisLine={axisStyle}
      tick={side === 'left' ? yTickL : yTickR}
    />
  );

  const lines = (g: Pt[], r: Pt[], gw: number, rw: number) => [
    <Line key="g" data={rows(g)} dataKey="y" name={SERIES_GREEN} type="linear" stroke={GREEN} strokeWidth={gw} dot={false} isAnimationActive={false} strokeLinejoin="round" />,
    <Line key="r" data={rows(r)} dataKey="y" name={SERIES_RED} type="linear" stroke={RED} strokeWidth={rw} dot={false} isAnimationActive={false} strokeLinejoin="round" />,
  ];

  return (
    <div style={{ position: 'absolute', left: 0, top: 0, width: 1014, height: 857, background: '#fff', overflow: 'hidden' }}>
      {/* ---------- panel (a) left ---------- */}
      <div style={{ position: 'absolute', left: 0, top: 0 }}>
        <LineChart width={L_SVG_W} height={415} margin={{ top: 7, right: L_SVG_W - L_PLOT_RIGHT, bottom: 42, left: 0 }}>
          {common(aDomL, aLeftTicks, aLeftMajor, aLeftLabels, 25)}
          {yAx('left', L_PLOT_LEFT)}
          <ReferenceLine y={100} stroke={INK} strokeWidth={1.2} />
          {lines(aLeftGreen, aLeftRed, 1.2, 2.2)}
          {seg('v0', aPeakLeft, 3, aPeakLeft, 94, INK, 1.2)}
          {seg('ga', aPeakLeft, 80.7, 0.915, 80.7, GREEN, 1.5)}
          {seg('ra', aPeakLeft, 53.9, 0.91, 53.9, RED, 2)}
          {at('gh', aPeakLeft, 80.7, head(180, GREEN))}
          {at('rh', aPeakLeft, 53.9, head(180, RED))}
          {at('gl', 1.013, 80.7, dw('1'))}
          {at('rl', 1.013, 53.9, dw('1'))}
          {at('lab', -0.813, 91.4, <text fontFamily={SERIF} fontSize={17} fill={INK}>(a)</text>)}
          {at('gan', -0.085, 81.8, vText('GaN(0002)'))}
          {at('aln', 0.843, 37.2, <text fontFamily={SERIF} fontSize={17} fill={INK}>AlN (0002)</text>)}
          {seg('alnl', 0.945, 34.5, 0.81, 31.4, INK, 1.2)}
          {at('alnh', 0.804, 31.25, head(162, INK))}
          {at('cnt', -0.996, 48.2, countLabel)}
          {at('ttl', 1.123, -17, axisTitle)}
          {slash('s1', aDomL[1], 100, SL * kxAL, SL * kyU)}
          {slash('s2', aDomL[1], 0, SL * kxAL, SL * kyU)}
        </LineChart>
      </div>

      {/* ---------- panel (a) right ---------- */}
      <div style={{ position: 'absolute', left: R_SVG_LEFT, top: 0 }}>
        <LineChart width={R_SVG_W} height={415} margin={{ top: 7, right: 0, bottom: 42, left: R_PLOT_LEFT - R_SVG_LEFT }}>
          {common(aDomR, aRightTicks, aRightMajor, aRightLabels, 25)}
          {yAx('right', R_SVG_LEFT + R_SVG_W - R_PLOT_RIGHT)}
          <ReferenceLine y={100} stroke={INK} strokeWidth={1.2} />
          {lines(aRightGreen, aRightRed, 1.2, 2.2)}
          <Legend layout="horizontal" verticalAlign="middle" align="center" content={legendContent}
            wrapperStyle={{ left: 162, top: 11, width: 340, height: 24 }} />
          {seg('vg', aPeakGreenRight, 16, aPeakGreenRight, 91.4, GREEN, 1.5)}
          {seg('vr', aPeakRedRight, 17.6, aPeakRedRight, 73.8, RED, 2)}
          {seg('ga', 17.475, 80.7, aPeakGreenRight - 0.02, 80.7, GREEN, 1.5)}
          {seg('ra', 17.43, 53.9, aPeakRedRight - 0.02, 53.9, RED, 2)}
          {at('gh', aPeakGreenRight, 80.7, head(0, GREEN))}
          {at('rh', aPeakRedRight, 53.9, head(0, RED))}
          {at('gan', 19.273, 74.7, vText('GaN(0004)'))}
          {slash('s1', aDomR[0], 100, SL * kxAR, SL * kyU)}
          {slash('s2', aDomR[0], 0, SL * kxAR, SL * kyU)}
        </LineChart>
      </div>

      {/* ---------- panel (b) left ---------- */}
      <div style={{ position: 'absolute', left: 0, top: 430 }}>
        <LineChart width={L_SVG_W} height={427} margin={{ top: 23, right: L_SVG_W - L_PLOT_RIGHT, bottom: 38, left: 0 }}>
          {common(bDomL, bLeftTicks, bLeftMajor, bLeftLabels, 24)}
          {yAx('left', L_PLOT_LEFT)}
          <ReferenceLine y={100} stroke={INK} strokeWidth={1.2} />
          {lines(bLeftGreen, bLeftRed, 1.3, 2.2)}
          {seg('v0', bPeakLeft, 0, bPeakLeft, 98.2, INK, 1.2)}
          {seg('ga1', bPeakLeft, 77.7, 2.21, 77.7, GREEN, 1.5)}
          {seg('ga2', 2.77, 77.7, 3.17, 77.7, GREEN, 1.5)}
          {seg('ra1', bPeakLeft, 58.9, 2.21, 58.9, RED, 2)}
          {seg('ra2', 2.77, 58.9, 3.17, 58.9, RED, 2)}
          {at('gh', bPeakLeft, 77.7, head(180, GREEN))}
          {at('rh', bPeakLeft, 58.9, head(180, RED))}
          {at('gl', 2.43, 77.7, dw('2'))}
          {at('rl', 2.43, 58.9, dw('2'))}
          {at('lab', -0.858, 91.7, <text fontFamily={SERIF} fontSize={17} fill={INK}>(b)</text>)}
          {at('gan', -0.212, 81.25, vText('GaN(101\u03052)'))}
          {at('cnt', -1.231, 47.9, countLabel)}
          {at('ttl', 3.196, -17.6, axisTitle)}
          {slash('s1', bDomL[1], 100, SL * kxBL, SL * kyU)}
          {slash('s2', bDomL[1], 0, SL * kxBL, SL * kyU)}
        </LineChart>
      </div>

      {/* ---------- panel (b) right ---------- */}
      <div style={{ position: 'absolute', left: R_SVG_LEFT, top: 430 }}>
        <LineChart width={R_SVG_W} height={427} margin={{ top: 23, right: 0, bottom: 38, left: R_PLOT_LEFT - R_SVG_LEFT }}>
          {common(bDomR, bRightTicks, bRightMajor, bRightLabels, 24)}
          {yAx('right', R_SVG_LEFT + R_SVG_W - R_PLOT_RIGHT)}
          <ReferenceLine y={100} stroke={INK} strokeWidth={1.2} />
          {lines(bRightGreen, bRightRed, 1.3, 2.2)}
          <Legend layout="horizontal" verticalAlign="middle" align="center" content={legendContent}
            wrapperStyle={{ left: 166, top: 31, width: 340, height: 24 }} />
          {seg('vg', bPeakGreenRight, 3.6, bPeakGreenRight, 82.1, GREEN, 1.5)}
          {seg('vr', bPeakRedRight, 2.1, bPeakRedRight, 89.9, RED, 2)}
          {seg('ga', 29.02, 77.7, bPeakGreenRight - 0.03, 77.7, GREEN, 1.5)}
          {seg('ra', 29.02, 58.9, bPeakRedRight - 0.03, 58.9, RED, 2)}
          {at('gh', bPeakGreenRight, 77.7, head(0, GREEN))}
          {at('rh', bPeakRedRight + 0.015, 58.9, head(0, RED))}
          {at('gan', 30.71, 73.2, vText('GaN(202\u03054)'))}
          {slash('s1', bDomR[0], 100, SL * kxBR, SL * kyU)}
          {slash('s2', bDomR[0], 0, SL * kxBR, SL * kyU)}
        </LineChart>
      </div>
    </div>
  );
}
